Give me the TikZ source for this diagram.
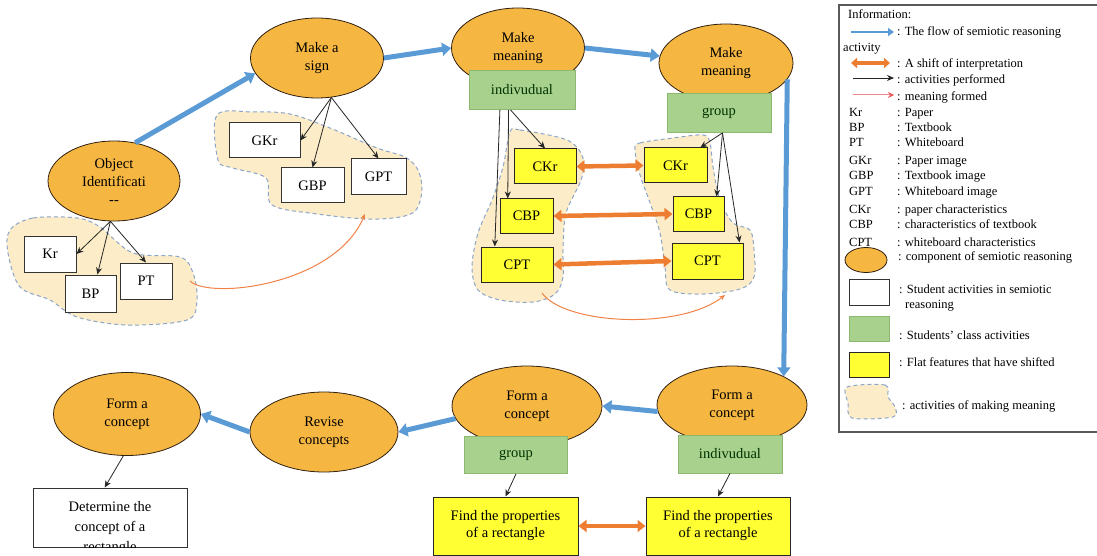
\documentclass[tikz,border=0pt]{standalone}
\usepackage{fontspec}
\setmainfont{Liberation Serif}
\usetikzlibrary{arrows.meta,shapes.geometric}

\begin{document}
\begin{tikzpicture}[x=1pt,y=-1pt,
  stage/.style={ellipse, draw=black!75!brown, fill=stageorange, line width=0.8pt,
    minimum width=133pt, minimum height=80pt, inner sep=1pt, align=center,
    font=\fontsize{14.5}{18}\selectfont},
  classbox/.style={rectangle, draw=classgreenline, fill=classgreen, line width=0.8pt,
    minimum width=105pt, minimum height=38pt, font=\fontsize{14.5}{17}\selectfont,
    text=black!80!green},
  actbox/.style={rectangle, draw=black!80, fill=white, line width=1pt,
    minimum width=52pt, minimum height=36pt, font=\fontsize{14.5}{17}\selectfont},
  featbox/.style={rectangle, draw=black!85, fill=featyellow, line width=1pt,
    minimum height=35pt, align=center, font=\fontsize{14.5}{17}\selectfont},
  meanzone/.style={draw=zoneblue, fill=zonebeige, dash pattern=on 4pt off 3pt, line width=1pt},
  flow/.style={draw=flowblue, line width=5pt, -{Triangle[length=9pt,width=13pt]}},
  shiftarrow/.style={draw=shiftorange, line width=4.5pt,
    {Triangle[length=8pt,width=12pt]}-{Triangle[length=8pt,width=12pt]}},
  performed/.style={draw=black!85, line width=0.8pt, -{Stealth[length=7pt,width=6pt]}},
  formed/.style={draw=formedorange, line width=1pt, -{Stealth[length=6pt,width=5pt]}},
  legendtext/.style={anchor=base west, inner sep=0pt, font=\fontsize{12.5}{14}\selectfont},
]

% Define colors
\definecolor{stageorange}{RGB}{245,182,66}
\definecolor{classgreen}{RGB}{169,209,142}
\definecolor{classgreenline}{RGB}{140,185,110}
\definecolor{featyellow}{RGB}{255,255,51}
\definecolor{zonebeige}{RGB}{252,236,200}
\definecolor{zoneblue}{RGB}{140,165,200}
\definecolor{flowblue}{RGB}{91,155,213}
\definecolor{shiftorange}{RGB}{237,125,49}
\definecolor{formedorange}{RGB}{240,130,70}
\definecolor{formedred}{RGB}{235,90,90}

\useasboundingbox (0,0) rectangle (1097,556);

% Zones of making meaning
\draw[meanzone] plot[smooth cycle, tension=0.55] coordinates {(10,230) (33,218) (77,218) (100,227) (133,253) (180,257) (193,273) (197,300) (187,320) (127,325) (77,317) (50,300) (20,287) (8,253)};
\draw[meanzone] plot[smooth cycle, tension=0.55] coordinates {(217,115) (253,112) (290,114) (330,128) (377,148) (405,157) (418,170) (422,190) (416,210) (400,217) (367,219) (317,214) (272,205) (266,178) (233,168) (218,160)};
\draw[meanzone] plot[smooth cycle, tension=0.55] coordinates {(510,132) (520,130) (567,140) (583,158) (581,180) (566,213) (563,250) (563,277) (555,294) (533,302) (500,300) (478,290) (472,267) (478,233) (492,200) (503,167)};
\draw[meanzone] plot[smooth cycle, tension=0.55] coordinates {(635,150) (640,143) (673,138) (703,135) (710,143) (713,167) (720,200) (733,223) (750,230) (754,250) (754,277) (740,289) (703,294) (670,290) (665,267) (660,233) (649,200) (640,175)};

% Components of semiotic reasoning
\node[stage, minimum width=132pt] (object) at (114,181) {Object\\Identificati\\{-}{-}};
\node[stage] (sign) at (317,58) {Make a\\sign};
\node[stage] (mean1) at (518,48) {Make\\meaning};
\node[stage, minimum width=134pt, minimum height=78pt] (mean2) at (726,63) {Make\\meaning};
\node[stage, minimum width=150pt, minimum height=78pt] (formR) at (732,405) {Form a\\concept};
\node[stage, minimum width=150pt] (formM) at (527,406) {Form a\\concept};
\node[stage, minimum width=148pt] (revise) at (324,432) {Revise\\concepts};
\node[stage, minimum width=147pt, minimum height=83pt] (formL) at (127,414) {Form a\\concept};

% Class activities
\node[classbox, minimum width=106pt, minimum height=39pt] (ind1) at (522,90) {indivudual};
\node[classbox, minimum width=104pt, minimum height=39pt] (grp1) at (719,113) {group};
\node[classbox, minimum width=103pt, minimum height=37pt] (grp2) at (516,455) {group};
\node[classbox, minimum width=104pt, minimum height=38pt] (ind2) at (730,454) {indivudual};

% Student activities
\node[actbox] (kr) at (50,254) {Kr};
\node[actbox, minimum width=51pt, minimum height=37pt] (bp) at (90.5,293.5) {BP};
\node[actbox] (pt) at (146,281) {PT};
\node[actbox, minimum width=71pt, minimum height=35pt] (gkr) at (264.5,140.5) {GKr};
\node[actbox, minimum width=63pt, minimum height=35pt] (gbp) at (312.5,185.5) {GBP};
\node[actbox, minimum width=55pt] (gpt) at (378.5,177) {GPT};

% Features that have shifted
\node[featbox, minimum width=62pt] (ckr1) at (545,166.5) {CKr};
\node[featbox, minimum width=53pt, minimum height=34pt] (cbp1) at (526.5,216) {CBP};
\node[featbox, minimum width=72pt] (cpt1) at (517,264.5) {CPT};
\node[featbox, minimum width=63pt] (ckr2) at (675.5,165.5) {CKr};
\node[featbox, minimum width=51pt, minimum height=34pt] (cbp2) at (698.5,214) {CBP};
\node[featbox, minimum width=71pt, minimum height=36pt] (cpt2) at (707.5,261) {CPT};
\node[featbox, minimum width=145pt, minimum height=58pt] (find1) at (505.5,526) {Find the properties\\of a rectangle};
\node[featbox, minimum width=144pt, minimum height=58pt] (find2) at (718,526) {Find the properties\\of a rectangle};

% Concept box, its last line cut off
\node[actbox, minimum width=154pt, minimum height=59pt] (det) at (110,517.5) {};
\begin{scope}
  \clip (det.south west) rectangle (det.north east);
  \node[anchor=north, align=center, inner sep=0pt, font=\fontsize{14.5}{20}\selectfont] (dettext) at (110,501) {Determine the\\concept of a\\rectangle};
\end{scope}

% Flow of semiotic reasoning
\draw[flow] (object.61) -- (sign.194);
\draw[flow] (sign.east) -- (mean1.west);
\draw[flow] (mean1.east) -- (mean2.174);
\draw[flow] (mean2.-15) -- (formR.29);
\draw[flow] (formR.185) -- (formM.east);
\draw[flow] (formM.190) -- (revise.east);
\draw[flow] (revise.west) -- (formL.east);

% Activities performed
\draw[performed] (object.265) -- (kr.east);
\draw[performed] (object.265) -- (bp.70);
\draw[performed] (object.265) -- (pt.north);
\draw[performed] (sign.290) -- (gkr.east);
\draw[performed] (sign.290) -- (gbp.north);
\draw[performed] (sign.290) -- (gpt.north);
\draw[performed] (ind1.222) -- (cpt1.141);
\draw[performed] (ind1.236) -- (cbp1.137);
\draw[performed] (ind1.240) -- (ckr1.north);
\draw[performed] (grp1.280) -- (ckr2.36);
\draw[performed] (grp1.280) -- (cbp2.44);
\draw[performed] (grp1.280) -- (cpt2.30);
\draw[performed] (grp2.south) -- (find1.north);
\draw[performed] (ind2.south) -- (find2.north);
\draw[performed] (formL.265) -- (det.100);

% Shifts of interpretation
\draw[shiftarrow] (ckr1.east) -- (ckr2.west);
\draw[shiftarrow] (cbp1.east) -- (cbp2.west);
\draw[shiftarrow] (cpt1.east) -- (cpt2.west);
\draw[shiftarrow] (find1.east) -- (find2.west);

% Meaning formed
\coordinate (zoneAout) at (190,281);
\coordinate (zoneBin) at (365,214);
\coordinate (zoneCout) at (542,293);
\coordinate (zoneDin) at (725,295);
\draw[formed] (zoneAout) .. controls (210,300) and (335,285) .. (zoneBin);
\draw[formed] (zoneCout) .. controls (565,325) and (680,330) .. (zoneDin);

% Legend
\draw[draw=gray!70!black, line width=1.2pt] (839,5) rectangle (1102,432);
\node[legendtext] (info) at (848,19) {Information:};
\coordinate (lflowA) at (851,32);
\coordinate (lflowB) at (894,32);
\draw[flow, line width=2.6pt, -{Triangle[length=6pt,width=8pt]}] (lflowA) -- (lflowB);
\node[legendtext] (lflow) at (897,36) {: The flow of semiotic reasoning};
\node[legendtext] (lactivity) at (843,52) {activity};
\coordinate (lshiftA) at (851,63);
\coordinate (lshiftB) at (890,63);
\draw[shiftarrow, line width=3.5pt, {Triangle[length=6pt,width=10pt]}-{Triangle[length=6pt,width=10pt]}] (lshiftA) -- (lshiftB);
\node[legendtext] (lshift) at (897,68) {: A shift of interpretation};
\coordinate (lperfA) at (853,78);
\coordinate (lperfB) at (894,78);
\draw[performed] (lperfA) -- (lperfB);
\node[legendtext] (lperf) at (897,84) {: activities performed};
\coordinate (lformA) at (853,95);
\coordinate (lformB) at (894,95);
\draw[formed, draw=formedred!70, -{Stealth[length=6pt,width=6pt,color=formedred]}] (lformA) -- (lformB);
\node[legendtext] (lform) at (897,101) {: meaning formed};
\foreach \abbr/\desc/\y in {Kr/Paper/117, BP/Textbook/132, PT/Whiteboard/147,
    GKr/Paper image/165, GBP/Textbook image/180, GPT/Whiteboard image/196,
    CKr/paper characteristics/213, CBP/characteristics of textbook/229,
    CPT/whiteboard characteristics/246}
{
  \node[legendtext] (key\abbr) at (849,\y) {\abbr};
  \node[legendtext] (desc\abbr) at (897,\y) {: \desc};
}
\node[stage, minimum width=42pt, minimum height=25pt] (lstage) at (866,260) {};
\node[legendtext] (lstagetext) at (898,260) {: component of semiotic reasoning};
\node[actbox, minimum width=40pt, minimum height=26pt] (lact) at (869,292) {};
\node[legendtext] (lacttext) at (899,293) {: Student activities in semiotic};
\node[legendtext] (lacttext2) at (905,308) {reasoning};
\node[classbox, minimum width=40pt, minimum height=25pt] (lclass) at (869,328.5) {};
\node[legendtext] (lclasstext) at (899,339) {: Students' class activities};
\node[featbox, minimum width=40pt, minimum height=25pt] (lfeat) at (869,364.5) {};
\node[legendtext] (lfeattext) at (899,366) {: Flat features that have shifted};
\draw[meanzone] plot[smooth cycle, tension=0.5] coordinates {(847,387) (885,385) (888,397) (895,407) (893,417) (852,418) (848,403)};
\node[legendtext] (lzonetext) at (902,409) {: activities of making meaning};

\end{tikzpicture}
\end{document}
